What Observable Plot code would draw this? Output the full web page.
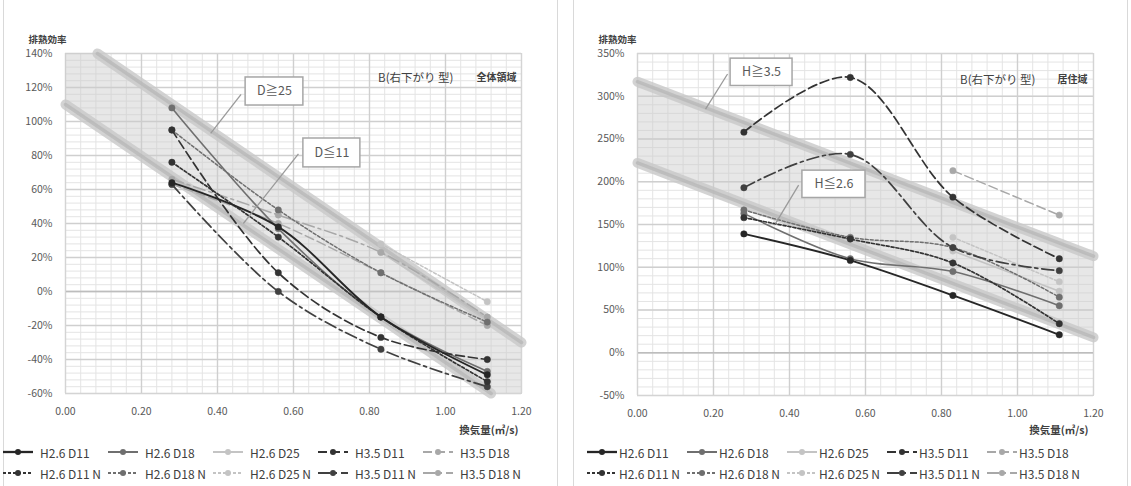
<!DOCTYPE html>
<html>
<head>
<meta charset="utf-8">
<script src="https://cdn.jsdelivr.net/npm/d3@7"></script>
<script src="https://cdn.jsdelivr.net/npm/@observablehq/plot@0.6"></script>
<style>
  body { margin: 0; background: #fff; font-family: "Noto Sans CJK JP", "Noto Sans", sans-serif; }
  #page { position: relative; width: 1131px; height: 486px; overflow: hidden; background: #fff; }
  .panel { position: absolute; top: 0; height: 486px; }
  .border { position: absolute; top: 0; height: 486px; border-left: 1px solid #d9d9d9; border-right: 1px solid #d9d9d9; box-sizing: border-box; }
  .legend { position: absolute; left: 0; top: 440px; width: 100%; height: 46px; }
  .item { position: absolute; display: flex; align-items: center; height: 18px; font-size: 12px; color: #404040; white-space: nowrap; }
  .item svg { flex: none; }
</style>
</head>
<body>
<div id="page"></div>
<script>
// Air-flow rates (㎥/s) at which every case was measured
const flow = [0.28, 0.56, 0.83, 1.11];

const seriesNames = [
  "H2.6 D11", "H2.6 D18", "H2.6 D25", "H3.5 D11", "H3.5 D18",
  "H2.6 D11 N", "H2.6 D18 N", "H2.6 D25 N", "H3.5 D11 N", "H3.5 D18 N"
];

// 排熱効率 (%) — 全体領域, one row per series, one column per flow rate
const wholeAreaValues = [
  [64, 38, -15, -49],
  [108, 37, -15, -47],
  [null, null, 23, -17],
  [95, 11, -27, -40],
  [63, 40, 11, -20],
  [76, 32, -15, -53],
  [95, 48, 11, -18],
  [null, null, 28, -6],
  [63, 0, -34, -56],
  [66, 45, 23, -15]
];

// 排熱効率 (%) — 居住域
const livingAreaValues = [
  [139, 108, 67, 21],
  [163, 110, 95, 55],
  [null, null, 119, 72],
  [258, 322, 182, 110],
  [null, null, 213, 161],
  [158, 133, 105, 34],
  [167, 135, 123, 65],
  [null, null, 135, 83],
  [193, 232, 123, 96],
  [null, null, null, null]
];

// Axis ticks
const xTicks = [0, 0.2, 0.4, 0.6, 0.8, 1.0, 1.2];
const wholeYTicks = [-60, -40, -20, 0, 20, 40, 60, 80, 100, 120, 140];
const livingYTicks = [-50, 0, 50, 100, 150, 200, 250, 300, 350];

// Trend bands [x, y] end points, and the shaded zone between them [x, low, high]
const wholeBandUpper = [[0.084, 140], [1.2, -30]];
const wholeBandLower = [[0, 110], [1.12, -60]];
const wholeBandFill = [[0, 110, 140], [0.084, 97, 140], [1.12, -60, -18], [1.2, -60, -30]];
const livingBandUpper = [[0, 317], [1.2, 113]];
const livingBandLower = [[0, 222], [1.2, 18]];
const livingBandFill = [[0, 222, 317], [1.2, 18, 113]];

// Callouts: label, box [x1, x2, y1, y2], leader [x1, y1, x2, y2]
const wholeCalloutLabels = ["D≧25", "D≦11"];
const wholeCalloutBoxes = [[0.474, 0.626, 109.4, 125.9], [0.626, 0.776, 73, 90]];
const wholeCalloutLeaders = [[0.462, 116, 0.382, 93], [0.613, 81, 0.468, 40]];
const livingCalloutLabels = ["H≧3.5", "H≦2.6"];
const livingCalloutBoxes = [[0.245, 0.408, 312, 344], [0.434, 0.6, 181, 213]];
const livingCalloutLeaders = [[0.237, 326, 0.179, 285], [0.424, 196, 0.363, 151]];

// Series styling
const seriesColors = ["#262626", "#6f6f6f", "#c4c4c4", "#333333", "#a8a8a8",
                      "#333333", "#6f6f6f", "#c4c4c4", "#404040", "#a8a8a8"];
const seriesDash = [null, null, null, "9,4", "9,4", "3,2", "3,2", "3,2", "12,4,3,4", "12,4,3,4"];
const seriesWidths = [1.9, 1.6, 1.6, 1.7, 1.5, 1.7, 1.5, 1.5, 1.7, 1.5];

const fontFamily = "'Noto Sans CJK JP', 'Noto Sans', sans-serif";

function buildPanel(cfg) {
  const rows = [];
  cfg.values.forEach((vals, s) => vals.forEach((v, i) => {
    if (v != null) rows.push({s, x: flow[i], y: v});
  }));
  const [y0, y1] = cfg.yDomain;
  const minorX = d3.range(0, 1.2001, 0.04);
  const minorY = d3.range(y0, y1 + 0.001, cfg.minorStep);

  const marks = [
    Plot.ruleX(minorX, {stroke: "#e4e4e4", strokeWidth: 1}),
    Plot.ruleY(minorY, {stroke: "#e4e4e4", strokeWidth: 1}),
    Plot.ruleX(xTicks, {stroke: "#cfcfcf", strokeWidth: 1.4}),
    Plot.ruleY(cfg.yTicks, {stroke: "#cfcfcf", strokeWidth: 1.4}),
    Plot.ruleY([0], {stroke: "#bdbdbd", strokeWidth: 1.6}),
    Plot.frame({stroke: "#d4d4d4"}),
    // shaded zone and the two trend bands
    Plot.areaY(cfg.bandFill, {x: d => d[0], y1: d => d[1], y2: d => d[2], fill: "#c9c9c9", fillOpacity: 0.45}),
    Plot.line(cfg.bandUpper, {x: d => d[0], y: d => d[1], stroke: "#c8c8c8", strokeWidth: 10, strokeOpacity: 0.8, strokeLinecap: "round"}),
    Plot.line(cfg.bandUpper, {x: d => d[0], y: d => d[1], stroke: "#b5b5b5", strokeWidth: 3.5, strokeOpacity: 0.7}),
    Plot.line(cfg.bandLower, {x: d => d[0], y: d => d[1], stroke: "#c8c8c8", strokeWidth: 10, strokeOpacity: 0.8, strokeLinecap: "round"}),
    Plot.line(cfg.bandLower, {x: d => d[0], y: d => d[1], stroke: "#b5b5b5", strokeWidth: 3.5, strokeOpacity: 0.7})
  ];

  // series, lightest first so the dark cases sit on top
  const order = [2, 7, 4, 9, 1, 6, 3, 8, 5, 0];
  for (const s of order) {
    const pts = rows.filter(r => r.s === s);
    if (!pts.length) continue;
    marks.push(Plot.line(pts, {
      x: "x", y: "y", curve: "catmull-rom",
      stroke: seriesColors[s], strokeWidth: seriesWidths[s],
      strokeDasharray: seriesDash[s] || undefined
    }));
    marks.push(Plot.dot(pts, {x: "x", y: "y", r: 3.2, fill: seriesColors[s], stroke: seriesColors[s], strokeWidth: 0.5}));
  }

  // callouts
  const idx = cfg.calloutLabels.map((_, i) => i);
  marks.push(
    Plot.link(idx, {
      x1: i => cfg.calloutLeaders[i][0], y1: i => cfg.calloutLeaders[i][1],
      x2: i => cfg.calloutLeaders[i][2], y2: i => cfg.calloutLeaders[i][3],
      stroke: "#9a9a9a", strokeWidth: 1.3
    }),
    Plot.rect(idx, {
      x1: i => cfg.calloutBoxes[i][0], x2: i => cfg.calloutBoxes[i][1],
      y1: i => cfg.calloutBoxes[i][2], y2: i => cfg.calloutBoxes[i][3],
      fill: "#fff", stroke: "#a6a6a6", strokeWidth: 1.5
    }),
    Plot.text(idx, {
      x: i => (cfg.calloutBoxes[i][0] + cfg.calloutBoxes[i][1]) / 2,
      y: i => (cfg.calloutBoxes[i][2] + cfg.calloutBoxes[i][3]) / 2,
      text: i => cfg.calloutLabels[i], fontSize: 12.5, fill: "#595959"
    })
  );

  // in-plot title, axis titles
  marks.push(
    Plot.text(["B(右下がり 型)"], {text: d => d, frameAnchor: "top-right", textAnchor: "end", dx: cfg.titleDx, dy: cfg.titleDy, fontSize: 11.5, fill: "#404040"}),
    Plot.text([cfg.region], {text: d => d, frameAnchor: "top-right", textAnchor: "end", dx: cfg.regionDx, dy: cfg.titleDy, fontSize: 10, fontWeight: "bold", fill: "#404040"}),
    Plot.text(["排熱効率"], {text: d => d, frameAnchor: "top-left", textAnchor: "start", dx: cfg.yLabelDx, dy: -17, fontSize: 9.5, fontWeight: "bold", fill: "#404040"}),
    Plot.text(["換気量(㎥/s)"], {text: d => d, frameAnchor: "bottom-right", textAnchor: "end", dx: cfg.xLabelDx, dy: cfg.xLabelDy, fontSize: 10.5, fontWeight: "bold", fill: "#404040"})
  );

  return Plot.plot({
    width: cfg.width,
    height: 440,
    marginLeft: cfg.marginLeft,
    marginRight: cfg.marginRight,
    marginTop: 53,
    marginBottom: cfg.marginBottom,
    style: {fontFamily, fontSize: "10.5px", color: "#595959", background: "transparent", overflow: "visible"},
    x: {domain: [0, 1.2], ticks: xTicks, tickFormat: d3.format(".2f"), tickSize: 0, tickPadding: 14, label: null},
    y: {domain: cfg.yDomain, ticks: cfg.yTicks, tickFormat: d => d + "%", tickSize: 0, tickPadding: 13, label: null},
    marks
  });
}

function buildLegend(start, colW, gap) {
  const div = document.createElement("div");
  div.className = "legend";
  seriesNames.forEach((name, s) => {
    const row = Math.floor(s / 5), col = s % 5;
    const item = document.createElement("div");
    item.className = "item";
    item.style.left = (start + col * colW) + "px";
    item.style.top = (3 + row * 21) + "px";
    const dash = seriesDash[s] ? `stroke-dasharray="${seriesDash[s]}"` : "";
    item.innerHTML =
      `<svg width="30" height="10" style="margin-right:${gap}px">` +
      `<line x1="0" y1="5" x2="30" y2="5" stroke="${seriesColors[s]}" stroke-width="${seriesWidths[s] + 0.4}" ${dash}/>` +
      `<circle cx="15" cy="5" r="3" fill="${seriesColors[s]}"/></svg>` +
      `<span>${name}</span>`;
    div.appendChild(item);
  });
  return div;
}

const page = document.getElementById("page");

const leftBorder = document.createElement("div");
leftBorder.className = "border";
leftBorder.style.left = "3px"; leftBorder.style.width = "555px";
page.appendChild(leftBorder);
const rightBorder = document.createElement("div");
rightBorder.className = "border";
rightBorder.style.left = "573px"; rightBorder.style.width = "555px";
page.appendChild(rightBorder);

const left = document.createElement("div");
left.className = "panel";
left.style.left = "0px"; left.style.width = "560px";
left.appendChild(buildPanel({
  values: wholeAreaValues, yDomain: [-60, 140], yTicks: wholeYTicks, minorStep: 4,
  bandUpper: wholeBandUpper, bandLower: wholeBandLower, bandFill: wholeBandFill,
  calloutLabels: wholeCalloutLabels, calloutBoxes: wholeCalloutBoxes, calloutLeaders: wholeCalloutLeaders,
  region: "全体領域", titleDx: -68, regionDx: -5, titleDy: 20,
  yLabelDx: -37, xLabelDx: -3, xLabelDy: 40,
  width: 560, marginLeft: 65, marginRight: 39, marginBottom: 47
}));
left.appendChild(buildLegend(3, 105, 7));
page.appendChild(left);

const right = document.createElement("div");
right.className = "panel";
right.style.left = "567px"; right.style.width = "564px";
right.appendChild(buildPanel({
  values: livingAreaValues, yDomain: [-50, 350], yTicks: livingYTicks, minorStep: 10,
  bandUpper: livingBandUpper, bandLower: livingBandLower, bandFill: livingBandFill,
  calloutLabels: livingCalloutLabels, calloutBoxes: livingCalloutBoxes, calloutLeaders: livingCalloutLeaders,
  region: "居住域", titleDx: -58, regionDx: -6, titleDy: 22,
  yLabelDx: -39, xLabelDx: -5, xLabelDy: 38,
  width: 564, marginLeft: 70, marginRight: 38, marginBottom: 45
}));
right.appendChild(buildLegend(20, 100, 2));
page.appendChild(right);
</script>
</body>
</html>
